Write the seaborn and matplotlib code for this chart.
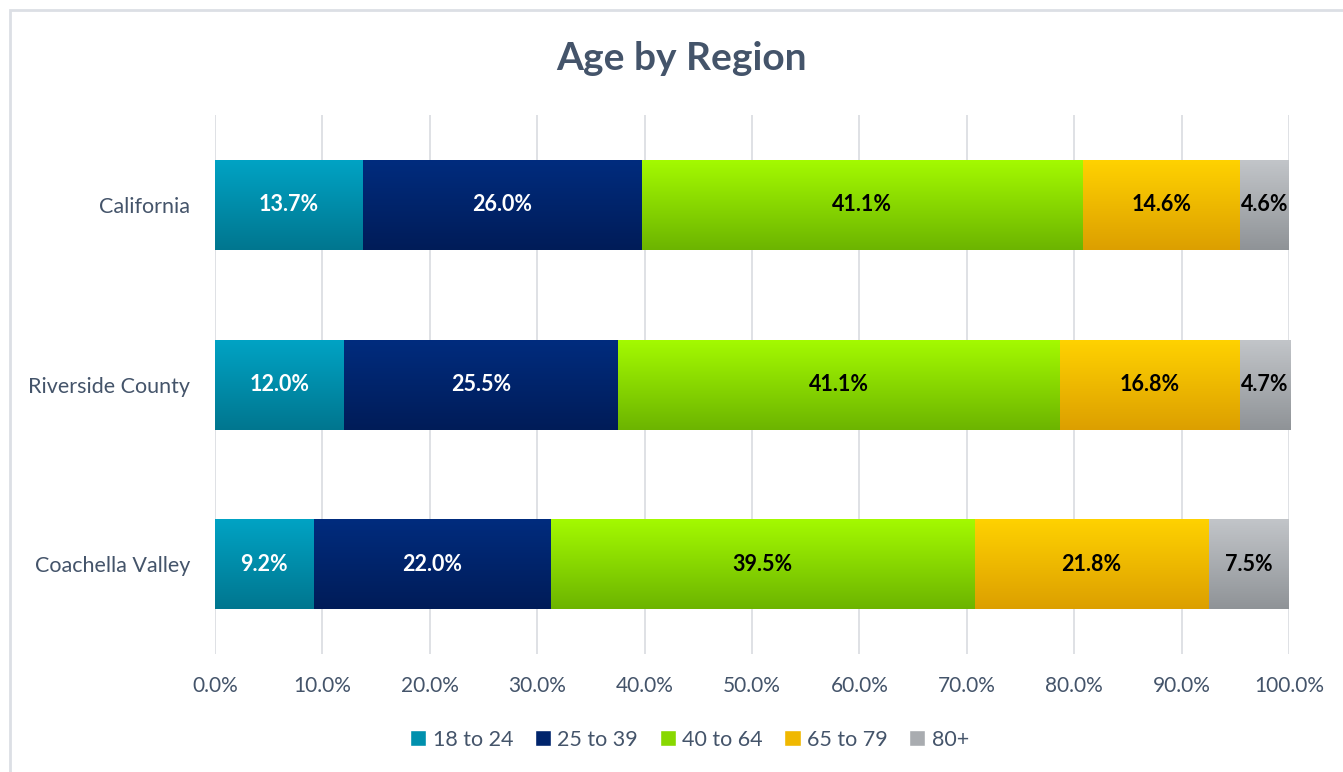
import numpy as np
import pandas as pd
import matplotlib
matplotlib.use("Agg")
import matplotlib.pyplot as plt
import seaborn as sns
from matplotlib.colors import LinearSegmentedColormap
from matplotlib.patches import Rectangle
from matplotlib.ticker import FuncFormatter

regions = ["California", "Riverside County", "Coachella Valley"]
age_groups = ["18 to 24", "25 to 39", "40 to 64", "65 to 79", "80+"]
v_18_24 = [13.7, 12.0, 9.2]
v_25_39 = [26.0, 25.5, 22.0]
v_40_64 = [41.1, 41.1, 39.5]
v_65_79 = [14.6, 16.8, 21.8]
v_80p = [4.6, 4.7, 7.5]
series = [v_18_24, v_25_39, v_40_64, v_65_79, v_80p]

top_colors = ["#00a3c4", "#002c7e", "#a4fa00", "#ffd200", "#c2c5c9"]
bot_colors = ["#00768f", "#001c58", "#6cb400", "#dc9f00", "#8f9397"]
mid_colors = ["#0090ad", "#00246c", "#88d800", "#f0b800", "#a9acb0"]
label_colors = ["white", "white", "black", "black", "black"]
text_col = "#44546a"

sns.set_theme(style="white")
plt.rcParams["font.family"] = ["Lato", "DejaVu Sans"]

fig = plt.figure(figsize=(13.43, 7.72), dpi=100)
ax = fig.add_axes([0.1601, 0.1528, 0.7997, 0.698])

vals = np.array(series)
cums = np.cumsum(vals, axis=0)
lefts = cums - vals

for i in range(len(series) - 1, -1, -1):
    df = pd.DataFrame({"region": regions, "value": cums[i]})
    n_before = len(ax.patches)
    sns.barplot(data=df, x="value", y="region", orient="h", color=mid_colors[i],
                width=0.5, ax=ax, saturation=1, linewidth=0, order=regions)
    z = 2 + (len(series) - i)
    cmap = LinearSegmentedColormap.from_list(f"g{i}", [top_colors[i], bot_colors[i]])
    grad = np.linspace(0, 1, 256).reshape(-1, 1)
    for p in ax.patches[n_before:]:
        p.set_zorder(z)
        x0, y0 = p.get_x(), p.get_y()
        w, h = p.get_width(), p.get_height()
        im = ax.imshow(grad, cmap=cmap, aspect="auto", origin="upper",
                       extent=[x0, x0 + w, y0 + h, y0], zorder=z + 0.1,
                       interpolation="bilinear")
        im.set_clip_path(p)

ax.set_xlim(0, 100)
ax.set_ylim(2.5, -0.5)
ax.set_aspect("auto")

for i in range(len(series)):
    for j in range(len(regions)):
        ax.text(lefts[i, j] + vals[i, j] / 2, j, f"{vals[i, j]:.1f}%",
                ha="center", va="center", color=label_colors[i],
                fontsize=15.5, fontweight="bold", zorder=20)

ax.set_xticks(np.arange(0, 101, 10))
ax.xaxis.set_major_formatter(FuncFormatter(lambda v, _: f"{v:.1f}%"))
ax.grid(axis="x", color="#d9dbe0", linewidth=1.2, zorder=0)
ax.set_axisbelow(True)
for s in ax.spines.values():
    s.set_visible(False)
ax.tick_params(axis="both", length=0, colors=text_col, labelsize=15)
ax.tick_params(axis="y", pad=18, labelsize=15.5)
ax.tick_params(axis="x", pad=16)
ax.set_xlabel("")
ax.set_ylabel("")

fig.text(0.5075, 0.924, "Age by Region", ha="center", va="center",
         fontsize=28, fontweight="bold", color=text_col)

handles = [Rectangle((0, 0), 1, 1, facecolor=mid_colors[i]) for i in range(len(series))]
fig.legend(handles, age_groups, loc="center", bbox_to_anchor=(0.5135, 0.042),
           ncol=5, frameon=False, fontsize=15.5, handlelength=0.75, handleheight=0.75,
           handletextpad=0.3, columnspacing=1.0, labelcolor=text_col)

fig.patches.append(Rectangle((10 / 1343, -0.01), 1.05, 1 - 10 / 772 + 0.01,
                             transform=fig.transFigure, fill=False,
                             edgecolor="#dcdfe5", linewidth=2, zorder=0))

fig.savefig("out.png", dpi=100, facecolor="white")
